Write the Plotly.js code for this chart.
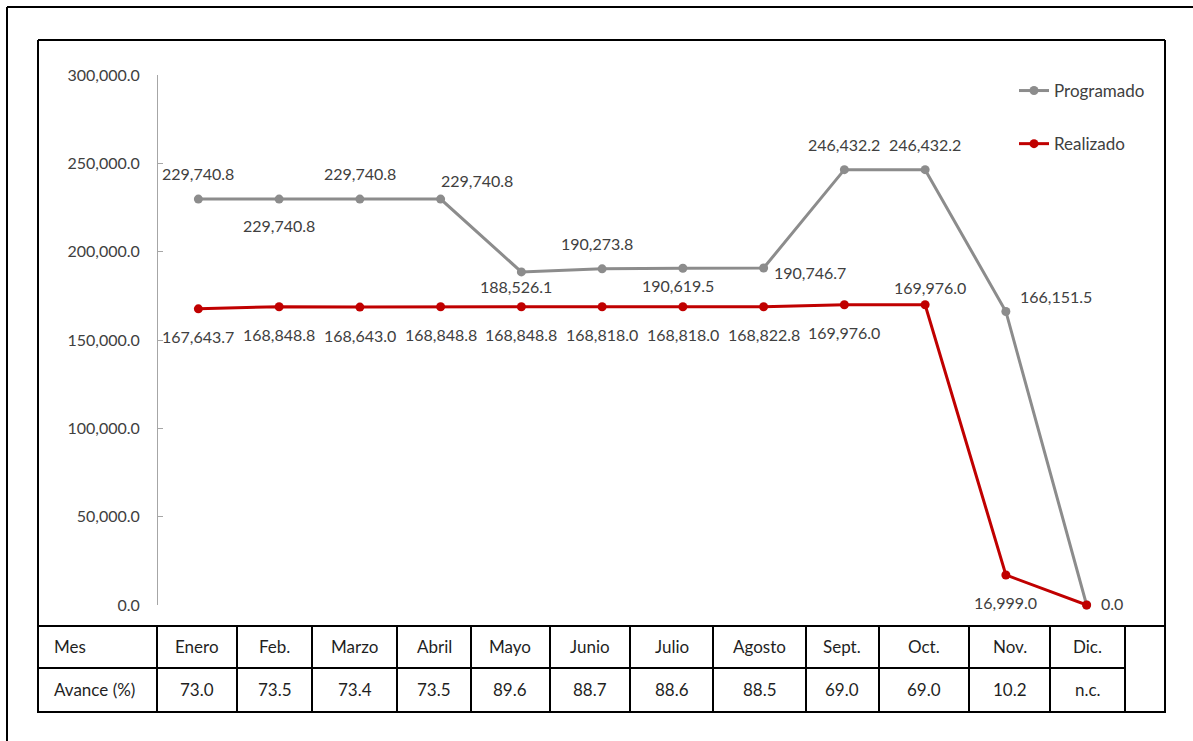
<!DOCTYPE html>
<html>
<head>
<meta charset="utf-8">
<script src="https://cdn.plot.ly/plotly-3.0.1.min.js"></script>
<style>html,body{margin:0;padding:0;background:#fff;}#chart{width:1193px;height:741px;}</style>
</head>
<body>
<div id="chart"></div>
<script>
// ---- data ----
const months = ['Enero','Feb.','Marzo','Abril','Mayo','Junio','Julio','Agosto','Sept.','Oct.','Nov.','Dic.'];
const programado = [229740.8, 229740.8, 229740.8, 229740.8, 188526.1, 190273.8, 190619.5, 190746.7, 246432.2, 246432.2, 166151.5, 0.0];
const realizado = [167643.7, 168848.8, 168643.0, 168848.8, 168848.8, 168818.0, 168818.0, 168822.8, 169976.0, 169976.0, 16999.0, 0.0];
const avance = ['73.0','73.5','73.4','73.5','89.6','88.7','88.6','88.5','69.0','69.0','10.2','n.c.'];
const rowHeaders = ['Mes', 'Avance (%)'];
const yTickVals = [0, 50000, 100000, 150000, 200000, 250000, 300000];

// ---- layout constants (pixels) ----
const W = 1193, H = 741;
const FONT = 'Lato, "Open Sans", sans-serif';
const TXT = '#404040';
const GRAY = '#8c8c8c';
const RED = '#c00000';
// label offsets [dx, dy] in px (dy positive = down)
const progOff = [[0,-26],[0,26],[0,-26],[36,-19],[-5,15],[-5,-25],[-5,17],[46,4],[0,-25],[0,-25],[50,-15],null];
const realOff = [[0,28],[0,28],[0,28],[0,28],[0,28],[0,28],[0,28],[0,28],[0,28],[5,-17],[0,28],[25,-2]];
const colEdges = [37, 157, 237, 312, 397, 471, 550, 630, 713, 806, 879, 969, 1050, 1125, 1166];
const tTop = 626, tMid = 668, tBot = 712;

const px = x => x / W;
const py = y => 1 - y / H;
const fmt = v => v.toLocaleString('en-US', {minimumFractionDigits: 1, maximumFractionDigits: 1});

const traces = [
  {x: months, y: programado, name: 'Programado', type: 'scatter', mode: 'lines+markers',
   line: {color: GRAY, width: 3}, marker: {color: GRAY, size: 9}, cliponaxis: false,
   legendgroup: 'p'},
  {x: months, y: realizado, name: 'Realizado', type: 'scatter', mode: 'lines+markers',
   line: {color: RED, width: 3}, marker: {color: RED, size: 9}, cliponaxis: false,
   legendgroup: 'r'}
];

const annotations = [];
function addLabels(vals, offs) {
  vals.forEach((v, i) => {
    if (!offs[i]) return;
    annotations.push({x: months[i], y: v, xref: 'x', yref: 'y', text: fmt(v), showarrow: false,
      xanchor: 'center', yanchor: 'middle',
      xshift: offs[i][0], yshift: -offs[i][1], font: {family: FONT, size: 16, color: TXT}});
  });
}
addLabels(programado, progOff);
addLabels(realizado, realOff);

// table text
const TBL = '#1f1f1f';
const TFS = 17;
const r1 = py((tTop + tMid) / 2 - 1), r2 = py((tMid + tBot) / 2 - 1);
annotations.push({x: px(52), y: r1, xref: 'paper', yref: 'paper', xanchor: 'left', yanchor: 'middle',
  text: rowHeaders[0], showarrow: false, font: {family: FONT, size: TFS, color: TBL}});
annotations.push({x: px(52), y: r2, xref: 'paper', yref: 'paper', xanchor: 'left', yanchor: 'middle',
  text: rowHeaders[1], showarrow: false, font: {family: FONT, size: TFS, color: TBL}});
months.forEach((m, i) => {
  const cx = (colEdges[i + 1] + colEdges[i + 2]) / 2;
  annotations.push({x: px(cx), y: r1, xref: 'paper', yref: 'paper', xanchor: 'center', yanchor: 'middle',
    text: m, showarrow: false, font: {family: FONT, size: TFS, color: TBL}});
  annotations.push({x: px(cx), y: r2, xref: 'paper', yref: 'paper', xanchor: 'center', yanchor: 'middle',
    text: avance[i], showarrow: false, font: {family: FONT, size: TFS, color: TBL}});
});

// shapes: borders and table grid
const shapes = [];
const ln = (x0, y0, x1, y1, w) => shapes.push({type: 'line', xref: 'paper', yref: 'paper',
  x0: px(x0), y0: py(y0), x1: px(x1), y1: py(y1), line: {color: '#000', width: w || 2}});
// outer frame
ln(7, 7, W + 5, 7);
ln(7, 7, 7, H + 5);
// inner frame
ln(38, 40, 1165, 40);
ln(38, 40, 38, tBot);
ln(1165, 40, 1165, tBot);
ln(37, tBot, 1166, tBot);
// table
ln(37, tTop, 1166, tTop);
ln(37, tMid, 1125, tMid);
colEdges.slice(1, -1).forEach(x => ln(x, tTop, x, tBot));

const layout = {
  width: W, height: H,
  margin: {l: 0, r: 0, t: 0, b: 0},
  paper_bgcolor: '#fff', plot_bgcolor: 'rgba(0,0,0,0)',
  font: {family: FONT, size: 16, color: TXT},
  showlegend: true,
  legend: {x: px(1014), y: py(73), xanchor: 'left', yanchor: 'top', traceorder: 'grouped',
    tracegroupgap: 28, font: {family: FONT, size: 17, color: TXT}, bgcolor: 'rgba(0,0,0,0)'},
  xaxis: {domain: [px(158), px(1127)], range: [-0.5, 11.5], type: 'category',
    showticklabels: false, showgrid: false, zeroline: false, showline: false, ticks: '', fixedrange: true},
  yaxis: {domain: [py(605), py(75)], range: [0, 300000], tickvals: yTickVals, tickformat: ',.1f',
    showgrid: false, zeroline: false, showline: true, linecolor: '#a6a6a6', linewidth: 1,
    ticks: 'inside', ticklen: 5, tickcolor: '#a6a6a6', ticklabelstandoff: 14,
    tickfont: {family: FONT, size: 16, color: TXT}},
  annotations: annotations,
  shapes: shapes
};

Plotly.newPlot('chart', traces, layout, {displayModeBar: false, staticPlot: true});
</script>
</body>
</html>
